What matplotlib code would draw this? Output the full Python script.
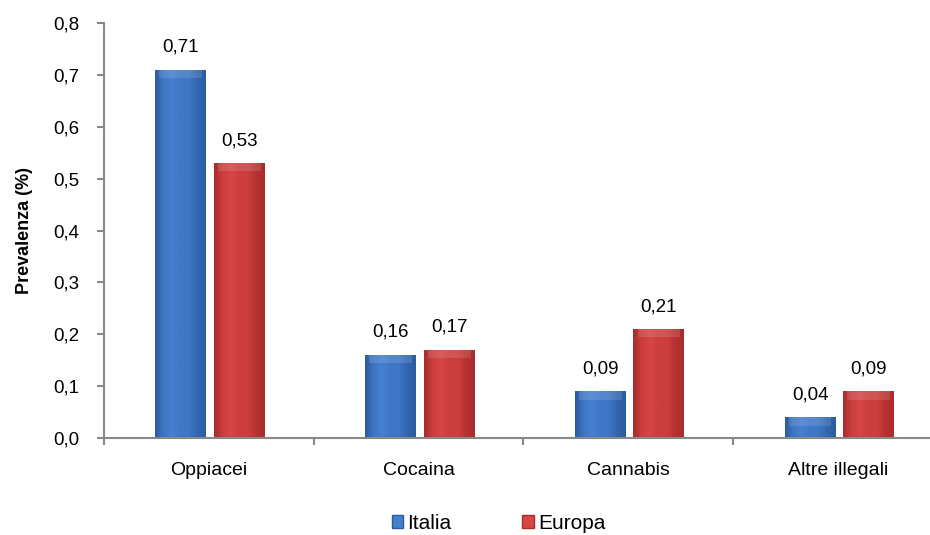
import numpy as np
import matplotlib
matplotlib.use("Agg")
import matplotlib.pyplot as plt
from matplotlib.patches import Patch
from matplotlib.colors import LinearSegmentedColormap

plt.rcParams['font.family'] = ['Liberation Sans', 'DejaVu Sans']

categorie = ["Oppiacei", "Cocaina", "Cannabis", "Altre illegali"]
italia = [0.71, 0.16, 0.09, 0.04]
europa = [0.53, 0.17, 0.21, 0.09]
serie = ["Italia", "Europa"]
yticks = [0.0, 0.1, 0.2, 0.3, 0.4, 0.5, 0.6, 0.7, 0.8]

blu = ["#3266b0", "#4680d0", "#3f77c6", "#2c5c9f"]
rosso = ["#b83232", "#d64646", "#cc3e3e", "#a82c2c"]


def virgola(v, nd):
    return f"{v:.{nd}f}".replace(".", ",")


def riempi_gradiente(ax, bars, colori):
    cmap = LinearSegmentedColormap.from_list(
        "g", [colori[3], colori[2], colori[1], colori[2], colori[2], colori[0], colori[3]])
    grad = np.linspace(0, 1, 64).reshape(1, -1)
    for b in bars:
        x0, y0 = b.get_x(), b.get_y()
        w, h = b.get_width(), b.get_height()
        im = ax.imshow(grad, cmap=cmap, aspect="auto", extent=(x0, x0 + w, y0, y0 + h),
                       zorder=2, interpolation="bicubic")
        im.set_clip_path(b)
        # smusso chiaro in alto
        top = min(0.016, h * 0.4)
        ax.fill_between([x0 + w * 0.08, x0 + w * 0.92], y0 + h - top, y0 + h,
                        color="white", alpha=0.12, zorder=3, linewidth=0)
        b.set_facecolor("none")


fig = plt.figure(figsize=(9.3, 5.35), dpi=100)
ax = fig.add_axes([0.1118, 0.1813, 0.8882, 0.7757])

x = np.arange(len(categorie))
w = 0.243
off = 0.14
b1 = ax.bar(x - off + 0.006, italia, w, color=blu[1], edgecolor="none", zorder=2)
b2 = ax.bar(x + off + 0.006, europa, w, color=rosso[1], edgecolor="none", zorder=2)
riempi_gradiente(ax, b1, blu)
riempi_gradiente(ax, b2, rosso)

for b, v in zip(b1, italia):
    ax.text(b.get_x() + b.get_width() / 2, v + 0.027, virgola(v, 2), ha="center", va="bottom", fontsize=13.5)
for b, v in zip(b2, europa):
    ax.text(b.get_x() + b.get_width() / 2, v + 0.027, virgola(v, 2), ha="center", va="bottom", fontsize=13.5)

ax.set_xlim(-0.5, 3.5 - 13 / 210)
ax.set_ylim(0, 0.8)
ax.set_yticks(yticks)
ax.set_yticklabels([virgola(t, 1) for t in yticks], fontsize=13.5)
ax.set_xticks(x)
ax.set_xticklabels(categorie, fontsize=14)
ax.set_xticks(np.arange(-0.5, 3.5, 1), minor=True)
ax.tick_params(axis="x", which="major", length=0, pad=17)
ax.tick_params(axis="x", which="minor", length=5, color="#888888", width=1.5)
ax.tick_params(axis="y", length=5, color="#888888", width=1.5, pad=13)
for s in ["top", "right"]:
    ax.spines[s].set_visible(False)
for s in ["left", "bottom"]:
    ax.spines[s].set_color("#888888")
    ax.spines[s].set_linewidth(1.5)
    ax.spines[s].set_zorder(4)

ax.set_ylabel("Prevalenza (%)", fontsize=13, fontweight="bold", labelpad=14)

handles = [Patch(facecolor=blu[1], edgecolor=blu[3]), Patch(facecolor=rosso[1], edgecolor=rosso[3])]
fig.legend(handles, serie, loc="center", bbox_to_anchor=(0.536, 0.022), ncol=2, frameon=False,
           fontsize=15, handlelength=0.55, handleheight=0.55, handletextpad=0.2, columnspacing=3.4)

fig.savefig("out.png", dpi=100)
